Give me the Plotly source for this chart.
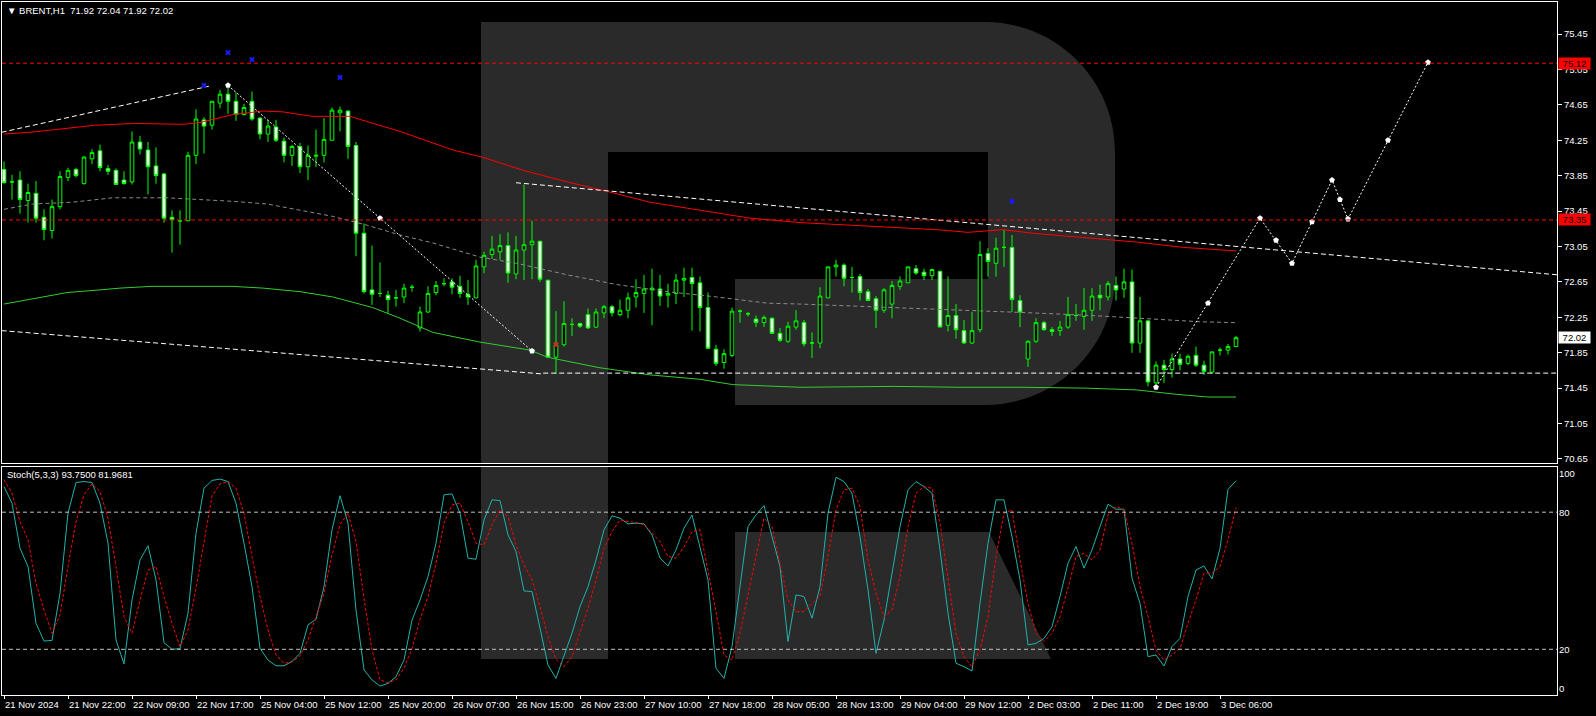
import plotly.graph_objects as go

# ---------------- data ----------------
symbol = "BRENT"
timeframe = "H1"

opens = [73.92,73.78,73.80,73.57,73.65,73.38,73.23,73.50,73.83,73.92,
73.76,74.04,74.13,73.93,73.91,73.80,73.78,74.23,74.14,73.96,
73.87,73.38,73.34,73.34,74.08,74.48,74.42,74.67,74.77,74.69,
74.54,74.69,74.50,74.32,74.40,74.24,74.08,74.18,73.95,74.07,
74.08,74.25,74.56,74.58,74.19,73.20,72.56,72.52,72.50,72.47,
72.48,72.59,72.13,72.31,72.53,72.63,72.65,72.60,72.51,72.47,
72.82,72.96,72.99,73.06,72.74,73.01,73.07,73.11,72.67,71.80,
71.94,72.17,72.18,72.28,72.14,72.30,72.37,72.28,72.33,72.48,
72.52,72.56,72.57,72.50,72.52,72.67,72.70,72.64,72.36,71.89,
71.74,71.82,72.32,72.29,72.23,72.19,72.24,72.07,71.98,72.14,
72.19,71.96,71.96,72.47,72.82,72.84,72.70,72.71,72.54,72.46,
72.33,72.40,72.60,72.64,72.80,72.76,72.72,72.77,72.16,72.27,
72.10,71.96,72.11,72.97,72.86,73.04,73.04,72.44,71.78,71.98,
72.19,72.11,72.10,72.14,72.27,72.26,72.33,72.50,72.48,72.61,
72.57,72.65,71.96,72.21,71.51,71.71,71.66,71.78,71.73,71.82,
71.71,71.63,71.88,71.88,71.92]

highs = [74.01,73.86,73.90,73.76,73.79,73.47,73.58,73.90,73.94,73.94,
74.07,74.15,74.20,73.97,73.93,73.90,74.35,74.30,74.23,74.17,
73.88,73.46,73.46,74.12,74.60,74.51,74.69,74.82,74.84,74.79,
74.66,74.80,74.51,74.48,74.48,74.28,74.20,74.22,74.19,74.37,
74.50,74.62,74.63,74.59,74.23,73.31,73.06,72.87,72.55,72.56,
72.63,72.62,72.37,72.60,72.66,72.69,72.69,72.72,72.67,72.90,
72.99,73.17,73.19,73.21,73.17,73.75,73.34,73.11,72.67,72.32,
72.43,72.24,72.19,72.35,72.35,72.39,72.39,72.45,72.53,72.68,
72.73,72.80,72.73,72.63,72.74,72.81,72.81,72.71,72.53,71.94,
71.89,72.36,72.34,72.31,72.27,72.27,72.25,72.13,72.20,72.33,
72.22,72.08,72.59,72.82,72.90,72.86,72.82,72.74,72.57,72.49,
72.58,72.66,72.71,72.82,72.84,72.80,72.80,72.77,72.71,72.40,
72.22,72.31,73.11,73.03,73.15,73.24,73.18,72.50,71.99,72.24,
72.21,72.14,72.21,72.48,72.40,72.58,72.58,72.62,72.66,72.71,
72.80,72.79,72.48,72.21,71.75,71.77,71.84,71.84,71.83,71.92,
71.76,71.86,71.91,71.95,72.04]

lows = [73.76,73.58,73.42,73.32,73.32,73.12,73.14,73.47,73.79,73.83,
73.75,73.98,73.90,73.86,73.75,73.75,73.75,74.09,73.64,73.76,
73.32,72.98,73.07,73.34,73.98,74.10,74.37,74.61,74.55,74.47,
74.53,74.47,74.26,74.23,74.23,74.00,73.96,73.88,73.80,73.95,
74.00,74.25,74.35,74.04,72.94,72.52,72.39,72.48,72.30,72.37,
72.41,72.54,72.09,72.30,72.50,72.60,72.51,72.47,72.39,72.47,
72.75,72.91,72.90,72.64,72.68,72.67,72.68,72.65,71.79,71.61,
71.92,72.04,72.13,72.12,72.13,72.24,72.26,72.26,72.24,72.36,
72.30,72.16,72.38,72.36,72.40,72.48,72.10,72.09,71.90,71.70,
71.67,71.80,72.19,72.26,72.14,72.14,72.06,71.97,71.96,72.11,
71.92,71.79,71.90,72.47,72.71,72.60,72.53,72.44,72.44,72.13,
72.30,72.24,72.56,72.64,72.73,72.67,72.67,72.14,72.09,72.01,
71.95,71.95,72.08,72.71,72.71,72.82,72.31,72.14,71.69,71.96,
72.10,72.04,72.04,72.12,72.21,72.11,72.21,72.33,72.44,72.44,
72.47,71.85,71.85,71.47,71.48,71.51,71.57,71.65,71.71,71.69,
71.60,71.61,71.82,71.83,71.92]

closes = [73.77,73.78,73.58,73.66,73.37,73.24,73.50,73.84,73.91,73.85,
74.06,74.11,73.94,73.90,73.75,73.76,74.23,74.15,73.95,73.85,
73.37,73.35,73.34,74.08,74.49,74.41,74.69,74.77,74.69,74.54,
74.62,74.49,74.32,74.41,74.25,74.08,74.18,73.95,74.08,74.08,
74.26,74.59,74.59,74.18,73.20,72.54,72.51,72.52,72.45,72.47,
72.58,72.59,72.31,72.52,72.61,72.63,72.59,72.52,72.48,72.83,
72.95,73.02,73.06,72.75,73.01,73.07,73.11,72.68,71.80,71.94,
72.18,72.17,72.15,72.13,72.31,72.37,72.30,72.33,72.47,72.53,
72.57,72.58,72.49,72.52,72.67,72.69,72.63,72.36,71.90,71.73,
71.84,72.32,72.32,72.29,72.19,72.25,72.07,71.99,72.15,72.21,
71.95,71.96,72.49,72.82,72.84,72.69,72.70,72.53,72.44,72.33,
72.56,72.61,72.66,72.82,72.75,72.72,72.79,72.14,72.27,72.11,
71.96,72.10,72.96,72.88,73.03,73.04,72.45,72.31,71.98,72.19,
72.11,72.09,72.14,72.28,72.27,72.33,72.49,72.47,72.63,72.56,
72.65,71.96,72.21,71.52,71.71,71.66,71.78,71.72,71.81,71.71,
71.64,71.86,71.88,71.92,72.02]

# moving averages read at sample bars
ma_red_bars = [0, 3.25, 6.4, 11.4, 16.4, 22.4, 24.5, 26.6, 28.6, 32.4, 34.9, 38.5, 43.25, 45.4, 49.5,
               56.1, 59.75, 64.9, 70.4, 75.5, 80.75, 87, 93.25, 99.5, 105.4, 111.6, 116.6, 120.5,
               124.9, 128.6, 133.6, 141.6, 147.4, 154]
ma_red_vals = [74.32, 74.34, 74.37, 74.42, 74.44, 74.43, 74.45, 74.50, 74.54, 74.58, 74.57, 74.52, 74.52, 74.46, 74.35,
               74.14, 74.06, 73.91, 73.78, 73.67, 73.55, 73.46, 73.37, 73.32, 73.29, 73.26, 73.24, 73.21,
               73.24, 73.20, 73.16, 73.10, 73.04, 73.00]

ma_green_bars = [0, 3.6, 7.9, 12, 14.5, 18.5, 28.5, 32.4, 37, 41.1, 43.6, 46.1, 49.5, 53.6, 59.5, 65.75,
                 67.9, 74.5, 80.75, 87, 91.1, 99.5, 111.4, 119.5, 127.4, 135.4, 141.6, 146.6, 150.5, 154]
ma_green_vals = [72.40, 72.46, 72.53, 72.56, 72.58, 72.60, 72.60, 72.58, 72.54, 72.48, 72.42, 72.36, 72.24, 72.08, 71.97, 71.88,
                 71.80, 71.68, 71.60, 71.55, 71.49, 71.46, 71.47, 71.46, 71.46, 71.45, 71.43, 71.38, 71.35, 71.35]

ma_gray_bars = [0, 3.6, 8.5, 13.6, 20.4, 28.6, 32.9, 37, 41.1, 45.4, 49.5, 53.6, 59.5, 64.1, 70.4, 76.6,
                82.9, 89.1, 95.4, 99.5, 112, 120.4, 128.6, 136.1, 142.4, 149.5, 154]
ma_gray_vals = [73.47, 73.53, 73.55, 73.60, 73.60, 73.56, 73.53, 73.46, 73.39, 73.29, 73.18, 73.09, 72.93, 72.86, 72.73, 72.62,
                72.54, 72.48, 72.41, 72.40, 72.36, 72.33, 72.30, 72.27, 72.24, 72.20, 72.19]

# stochastic (5,3,3)
stoch_k = [91.2, 83.9, 64.2, 56.2, 31.4, 23.6, 23.9, 44.5, 79.6, 93.0,
93.4, 93.0, 83.9, 66.4, 24.1, 13.6, 41.6, 59.1, 65.3, 50.4,
22.9, 20.0, 20.3, 35.8, 70.8, 90.5, 93.9, 94.5, 93.4, 83.9,
66.4, 47.4, 20.4, 15.3, 12.8, 12.8, 14.7, 18.2, 30.7, 33.1,
47.4, 72.3, 87.2, 75.2, 37.2, 11.0, 6.6, 3.9, 5.1, 8.0,
15.3, 32.8, 41.6, 51.8, 66.4, 87.6, 88.0, 79.6, 59.9, 59.4,
76.6, 85.4, 85.1, 70.1, 62.8, 45.5, 45.3, 29.9, 13.1, 7.3,
16.8, 27.0, 38.7, 47.4, 59.1, 72.3, 78.4, 77.4, 74.9, 75.2,
74.9, 70.1, 59.9, 56.5, 63.5, 73.0, 78.8, 65.0, 50.4, 11.7,
7.3, 21.2, 47.4, 73.7, 78.8, 82.9, 69.3, 56.2, 23.4, 43.8,
43.1, 33.6, 47.4, 79.6, 95.3, 93.4, 88.3, 69.3, 46.0, 18.2,
32.8, 53.3, 73.7, 89.8, 93.4, 91.2, 88.3, 63.5, 35.8, 13.9,
12.4, 10.5, 40.1, 66.4, 85.4, 85.4, 69.3, 50.4, 21.9, 22.6,
24.8, 29.9, 43.1, 57.7, 65.0, 55.5, 63.5, 73.7, 83.5, 81.3,
81.3, 51.1, 40.1, 16.8, 17.5, 12.7, 21.2, 24.8, 43.1, 54.7,
56.5, 50.8, 64.2, 90.0, 93.75]

stoch_d = [94.2, 88.3, 75.9, 67.9, 48.9, 37.2, 27.0, 35.0, 56.2, 75.9,
87.6, 92.4, 89.1, 77.4, 56.2, 34.3, 27.0, 41.6, 54.7, 56.2,
43.1, 31.4, 21.2, 28.5, 46.7, 67.2, 86.9, 92.4, 93.4, 90.5,
79.6, 60.6, 43.1, 28.5, 17.5, 13.9, 14.5, 17.1, 24.1, 34.3,
44.5, 61.3, 74.5, 79.6, 67.2, 42.3, 19.7, 6.6, 5.4, 6.6,
11.7, 20.4, 33.1, 43.1, 57.7, 75.2, 83.2, 83.9, 75.9, 66.4,
65.7, 74.5, 81.0, 78.1, 65.7, 56.9, 50.4, 38.7, 25.5, 15.6,
12.4, 16.8, 27.0, 38.0, 50.4, 64.2, 71.5, 76.6, 75.9, 75.5,
74.5, 70.8, 67.2, 60.6, 59.9, 64.7, 71.5, 72.3, 54.7, 36.5,
17.5, 15.3, 27.0, 44.5, 60.6, 77.4, 73.7, 57.7, 41.6, 36.5,
36.5, 40.1, 43.1, 60.6, 81.0, 89.8, 90.5, 82.5, 59.1, 44.5,
34.3, 37.2, 51.8, 73.7, 88.3, 91.2, 90.5, 75.2, 50.4, 27.0,
16.8, 12.4, 19.7, 34.3, 60.6, 79.6, 81.0, 59.1, 40.1, 27.0,
23.4, 27.0, 34.3, 46.7, 60.6, 62.0, 59.1, 63.5, 78.8, 82.5,
81.0, 66.4, 47.4, 34.3, 19.7, 15.3, 17.5, 20.4, 31.4, 41.6,
53.3, 53.3, 56.2, 68.0, 81.9681]
stoch_levels = [80, 20]
stoch_axis_labels = [100, 80, 20, 0]

# drawn objects (bar index, price)
trend_upper_bars = [-0.3, 25.6]
trend_upper_vals = [74.34, 74.86]
resist_bars = [64, 194.2]
resist_vals = [73.77, 72.73]
support_slope_bars = [-0.3, 67.4]
support_slope_vals = [72.10, 71.61]
support_flat_bars = [67.4, 194.2]
support_flat_vals = [71.62, 71.62]
zig1_bars = [28, 66]
zig1_vals = [74.87, 71.87]
zig1_mark_bars = [28, 47, 66]
zig1_mark_vals = [74.87, 73.37, 71.87]
forecast_bars = [144, 157, 161, 166, 168, 178]
forecast_vals = [71.46, 73.37, 72.86, 73.80, 73.36, 75.13]
forecast_mark_bars = [144, 150.5, 157, 159, 161, 163.5, 166, 167, 168, 173, 178]
forecast_mark_vals = [71.46, 72.41, 73.37, 73.12, 72.86, 73.33, 73.80, 73.58, 73.36, 74.25, 75.13]
blue_x_bars = [25, 28, 31, 42, 126]
blue_x_vals = [74.87, 75.24, 75.16, 74.96, 73.56]
red_mark_bars = [69]
red_mark_vals = [71.94]

levels = [75.12, 73.35]
last_price = 72.02

price_ticks = [70.65, 71.05, 71.45, 71.85, 72.25, 72.65, 73.05, 73.45, 73.85, 74.25, 74.65, 75.05, 75.45]
tick_bars = [0, 8, 16, 24, 32, 40, 48, 56, 64, 72, 80, 88, 96, 104, 112, 120, 128, 136, 144, 152]
tick_labels = ["21 Nov 2024", "21 Nov 22:00", "22 Nov 09:00", "22 Nov 17:00", "25 Nov 04:00",
               "25 Nov 12:00", "25 Nov 20:00", "26 Nov 07:00", "26 Nov 15:00", "26 Nov 23:00",
               "27 Nov 10:00", "27 Nov 18:00", "28 Nov 05:00", "28 Nov 13:00", "29 Nov 04:00",
               "29 Nov 12:00", "2 Dec 03:00", "2 Dec 11:00", "2 Dec 19:00", "3 Dec 06:00"]

# ---------------- layout geometry ----------------
W, H = 1596, 716
PL, PR, PT, PB = 2, 1557, 2, 695
FONT = "Liberation Sans, Arial, sans-serif"
FS = 9.5
CANDLE = "#00ff00"
WM = "#2a2a2a"


def fx(x):
    return (x - PL) / (PR - PL)


def fy(y):
    return (PB - y) / (PB - PT)


def path(pts):
    s = ""
    for cmd, coords in pts:
        s += cmd
        if coords:
            s += " ".join(f"{fx(a):.5f},{fy(b):.5f}" for a, b in coords) + " "
    return s.strip()


x_range = [-0.25, 194.125]
y_range = [75.45 + 32 / 88.54, 75.45 - 429 / 88.54]

fig = go.Figure()

bars = list(range(len(opens)))
fig.add_trace(go.Candlestick(
    x=bars, open=opens, high=highs, low=lows, close=closes,
    increasing=dict(line=dict(color=CANDLE, width=1), fillcolor="#000000"),
    decreasing=dict(line=dict(color=CANDLE, width=1), fillcolor="#ffffff"),
    whiskerwidth=0, xaxis="x", yaxis="y", showlegend=False, hoverinfo="skip"))


def line(xs, ys, color, dash=None, width=1, xa="x", ya="y"):
    fig.add_trace(go.Scatter(x=xs, y=ys, mode="lines", xaxis=xa, yaxis=ya,
                             line=dict(color=color, width=width, dash=dash),
                             showlegend=False, hoverinfo="skip"))


line(ma_red_bars, ma_red_vals, "#ff0000")
line(ma_green_bars, ma_green_vals, "#32cd32")
line(ma_gray_bars, ma_gray_vals, "#8a8a8a", "4px,3px")
line(trend_upper_bars, trend_upper_vals, "#ffffff", "5px,3px")
line(resist_bars, resist_vals, "#ffffff", "5px,3px")
line(support_slope_bars, support_slope_vals, "#ffffff", "5px,3px")
line(support_flat_bars, support_flat_vals, "#ffffff", "5px,3px")
line(zig1_bars, zig1_vals, "#ffffff", "2px,2px")
line(forecast_bars, forecast_vals, "#ffffff", "2px,2px")


def marks(xs, ys, color, symbol, size):
    fig.add_trace(go.Scatter(x=xs, y=ys, mode="markers", xaxis="x", yaxis="y",
                             marker=dict(color=color, symbol=symbol, size=size, line=dict(width=0)),
                             showlegend=False, hoverinfo="skip"))


marks(zig1_mark_bars, zig1_mark_vals, "#ffffff", "pentagon", 6)
marks(forecast_mark_bars, forecast_mark_vals, "#ffffff", "pentagon", 6)
marks(blue_x_bars, blue_x_vals, "#1a1aff", "x", 5)
marks(red_mark_bars, red_mark_vals, "#c03020", "x", 5)

line(bars, stoch_k, "#20b2aa", None, 1, "x2", "y2")
line(bars, stoch_d, "#ff0000", "3px,2px", 1, "x2", "y2")

shapes = []
# watermark logo
bowl = [("M", [(481, 22)]), ("L", [(985, 22)]),
        ("C", [(1056.8, 22), (1115, 80.2), (1115, 152)]),
        ("L", [(1115, 275)]),
        ("C", [(1115, 346.8), (1056.8, 405), (985, 405)]),
        ("L", [(735, 405)]), ("L", [(735, 279)]), ("L", [(988, 279)]), ("L", [(988, 152)]),
        ("L", [(608, 152)]), ("L", [(608, 463)]), ("L", [(481, 463)]), ("Z", [])]
leg = [("M", [(735, 532)]), ("L", [(989, 532)]), ("L", [(1051, 659)]), ("L", [(735, 659)]), ("Z", [])]
stem = [("M", [(481, 466)]), ("L", [(608, 466)]), ("L", [(608, 659)]), ("L", [(481, 659)]), ("Z", [])]
for p in (bowl, leg, stem):
    shapes.append(dict(type="path", xref="paper", yref="paper", path=path(p),
                       fillcolor=WM, line=dict(width=0), layer="below"))

for lv in levels:
    shapes.append(dict(type="line", xref="paper", x0=0, x1=1, yref="y", y0=lv, y1=lv,
                       line=dict(color="#ff0000", width=1, dash="4px,3px"), layer="above"))
for lv in stoch_levels:
    shapes.append(dict(type="line", xref="paper", x0=0, x1=1, yref="y2", y0=lv, y1=lv,
                       line=dict(color="#c0c0c0", width=1, dash="4px,3px"), layer="above"))

annotations = []
header = (f"\u25bc {symbol},{timeframe}\u00a0\u00a0{opens[-1]:.2f} {highs[-1]:.2f} "
          f"{lows[-1]:.2f} {closes[-1]:.2f}")
annotations.append(dict(text=header, xref="paper", yref="paper", x=fx(6), y=fy(10.5),
                        xanchor="left", yanchor="middle", showarrow=False, borderpad=0,
                        font=dict(family=FONT, size=FS, color="#ffffff")))
annotations.append(dict(text=f"Stoch(5,3,3) {stoch_k[-1]:.4f} {stoch_d[-1]:.4f}", xref="paper", yref="paper",
                        x=fx(6), y=fy(474.5), xanchor="left", yanchor="middle", showarrow=False,
                        borderpad=0, font=dict(family=FONT, size=FS, color="#ffffff")))
for b, t in zip(tick_bars, tick_labels):
    annotations.append(dict(text=t, xref="x2", yref="paper", x=b, y=fy(704.5),
                            xanchor="left", yanchor="middle", showarrow=False, borderpad=0,
                            font=dict(family=FONT, size=FS, color="#ffffff")))
for v in stoch_axis_labels:
    ya = "top" if v == 100 else ("bottom" if v == 0 else "middle")
    annotations.append(dict(text=str(v), xref="paper", yref="y2", x=1, y=v, xshift=1,
                            xanchor="left", yanchor=ya, showarrow=False, borderpad=0,
                            font=dict(family=FONT, size=FS, color="#ffffff")))
for lv in levels:
    annotations.append(dict(text=f"{lv:.2f}", xref="paper", yref="y", x=1, y=lv, xshift=1,
                            xanchor="left", yanchor="middle", showarrow=False, borderpad=0,
                            width=31, height=11, bgcolor="#ff0000", align="center",
                            font=dict(family=FONT, size=FS, color="#000000")))
annotations.append(dict(text=f"{last_price:.2f}", xref="paper", yref="y", x=1, y=last_price, xshift=1,
                        xanchor="left", yanchor="middle", showarrow=False, borderpad=0,
                        width=31, height=11, bgcolor="#ffffff", align="center",
                        font=dict(family=FONT, size=FS, color="#000000")))

axis_common = dict(showline=True, mirror=True, linecolor="#ffffff", linewidth=1,
                   showgrid=False, zeroline=False, fixedrange=True)

fig.update_layout(
    width=W, height=H, autosize=False,
    margin=dict(l=PL, r=W - PR, t=PT, b=H - PB, pad=0),
    paper_bgcolor="#000000", plot_bgcolor="#000000",
    showlegend=False, boxgap=0.35,
    shapes=shapes, annotations=annotations,
    xaxis=dict(domain=[0, 1], range=x_range, anchor="y", ticks="", showticklabels=False,
               rangeslider=dict(visible=False), **axis_common),
    yaxis=dict(domain=[fy(463), 1], range=[y_range[1], y_range[0]], anchor="x", side="right",
               ticks="outside", ticklen=4, tickcolor="#ffffff", tickwidth=1,
               tickvals=price_ticks, ticktext=[f"{v:.2f}" for v in price_ticks],
               tickfont=dict(family=FONT, size=FS, color="#ffffff"), **axis_common),
    xaxis2=dict(domain=[0, 1], range=x_range, anchor="y2", matches="x",
                ticks="outside", ticklen=3, tickcolor="#ffffff", tickvals=tick_bars,
                showticklabels=False, **axis_common),
    yaxis2=dict(domain=[0, fy(466.5)], range=[0, 100], anchor="x2", side="right",
                ticks="", showticklabels=False, **axis_common),
)

fig.write_html("out.html", include_plotlyjs=True, config={"displayModeBar": False, "staticPlot": True})

# remove the browser's default page margin so the figure sits at the window origin
with open("out.html", "r", encoding="utf-8") as f:
    html = f.read()
html = html.replace("<head>", "<head><style>html,body{margin:0;padding:0;overflow:hidden;background:#000}</style>", 1)
with open("out.html", "w", encoding="utf-8") as f:
    f.write(html)
